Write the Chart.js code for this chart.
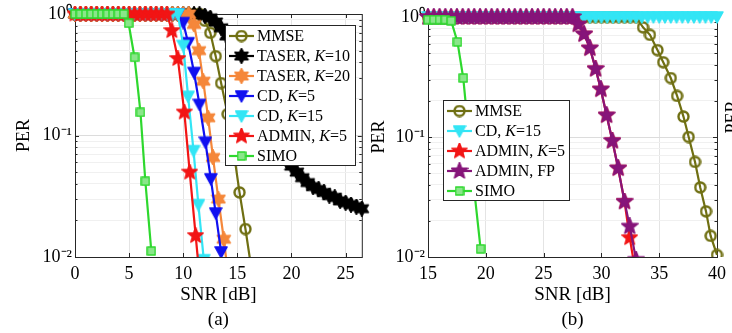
<!DOCTYPE html>
<html>
<head>
<meta charset="utf-8">
<script src="https://cdn.jsdelivr.net/npm/chart.js@4.4.0/dist/chart.umd.min.js"></script>
<style>
  body { margin: 0; background: #fff; width: 732px; height: 333px; overflow: hidden; position: relative; font-family: 'Liberation Serif', 'Times New Roman', serif; }
  canvas.plot { position: absolute; top: 0; }
  .legend { position: absolute; background: #fff; border: 1px solid #262626; font-size: 16px; box-sizing: border-box; padding: 0 4px 0 1px; }
  .legend div { display: flex; align-items: center; height: 20px; white-space: nowrap; }
  .legend canvas { display: block; margin-right: 1px; }
  .cut { position: absolute; left: 712px; top: 107px; width: 40px; height: 20px; line-height: 20px; text-align: center; font-size: 18px; transform: rotate(-90deg); }
</style>
</head>
<body>
<canvas id="chartA" class="plot" width="370" height="333" style="left:0px"></canvas>
<canvas id="chartB" class="plot" width="372" height="333" style="left:360px"></canvas>
<div id="legendA" class="legend" style="left:225px; top:25px; width:131px; height:141px"></div>
<div id="legendB" class="legend" style="left:443px; top:100px; height:101px"></div>
<div class="cut">PER</div>
<script>
// ---- panel (a) data ----
const snrA_MMSE = [0,0.5,1,1.5,2,2.5,3,3.5,4,4.5,5,5.5,6,6.5,7,7.5,8,8.5,9,9.5,10,10.5,11,11.5,12,12.5,13,13.5,14.1,14.65,15.2,15.75,16.3];
const perA_MMSE = [1,1,1,1,1,1,1,1,1,1,1,1,1,1,1,1,1,1,1,1,1,1,1,1,0.88,0.7,0.45,0.27,0.15,0.075,0.034,0.017,0.008];
const snrA_TASER10 = [0,0.5,1,1.5,2,2.5,3,3.5,4,4.5,5,5.5,6,6.5,7,7.5,8,8.5,9,9.5,10,10.5,11,11.5,12,12.5,13,13.5,14,14.5,15,15.5,16,16.5,17,17.5,18,18.5,19,19.5,20,20.5,21,21.5,22,22.5,23,23.5,24,24.5,25,25.5,26,26.5];
const perA_TASER10 = [1,1,1,1,1,1,1,1,1,1,1,1,1,1,1,1,1,1,1,1,1,1,1,1,0.97,0.93,0.86,0.77,0.66,0.55,0.45,0.36,0.29,0.23,0.18,0.14,0.11,0.088,0.073,0.063,0.056,0.05,0.045,0.041,0.038,0.036,0.034,0.032,0.031,0.029,0.028,0.027,0.026,0.025];
const snrA_TASER20 = [0,0.5,1,1.5,2,2.5,3,3.5,4,4.5,5,5.5,6,6.5,7,7.5,8,8.5,9,9.5,10,10.5,11,11.45,11.85,12.3,12.75,13.25,13.75,14.2];
const perA_TASER20 = [1,1,1,1,1,1,1,1,1,1,1,1,1,1,1,1,1,1,1,1,1,1,0.82,0.5,0.28,0.14,0.066,0.03,0.014,0.0065];
const snrA_CD5 = [0,0.5,1,1.5,2,2.5,3,3.5,4,4.5,5,5.5,6,6.5,7,7.5,8,8.5,9,9.5,10,10.45,11,11.5,12.05,12.55,13,13.5];
const perA_CD5 = [1,1,1,1,1,1,1,1,1,1,1,1,1,1,1,1,1,1,1,1,0.85,0.58,0.33,0.18,0.088,0.044,0.023,0.011];
const snrA_CD15 = [0,0.5,1,1.5,2,2.5,3,3.5,4,4.5,5,5.5,6,6.5,7,7.5,8,8.5,9,9.5,10,10.45,10.95,11.4,11.9];
const perA_CD15 = [1,1,1,1,1,1,1,1,1,1,1,1,1,1,1,1,1,1,1,1,0.55,0.21,0.075,0.027,0.0095];
const snrA_ADMIN5 = [0,0.5,1,1.5,2,2.5,3,3.5,4,4.5,5,5.5,6,6.5,7,7.5,8,8.5,8.95,9.5,10.1,10.6,11.15,11.7];
const perA_ADMIN5 = [1,1,1,1,1,1,1,1,1,1,1,1,1,1,1,1,1,1,0.73,0.43,0.156,0.05,0.015,0.0045];
const snrA_SIMO = [0,0.5,1,1.5,2,2.5,3,3.5,4,4.5,4.95,5.5,6.05,6.5,7.05];
const perA_SIMO = [1,1,1,1,1,1,1,1,1,1,0.84,0.44,0.155,0.042,0.0112];

// ---- panel (b) data ----
const snrB_MMSE = [15,15.5,16,16.5,17,17.5,18,18.5,19,19.5,20,20.5,21,21.5,22,22.5,23,23.5,24,24.5,25,25.5,26,26.5,27,27.5,28,28.5,29,29.5,30,30.5,31,31.5,32,32.5,33,33.6,34.2,34.85,35.35,36,36.55,37.1,37.55,38.1,38.55,39.05,39.45,40];
const perB_MMSE = [1,1,1,1,1,1,1,1,1,1,1,1,1,1,1,1,1,1,1,1,1,1,1,1,1,1,1,1,1,1,1,1,1,1,1,1,1,0.82,0.71,0.53,0.42,0.31,0.22,0.148,0.1,0.062,0.038,0.024,0.015,0.0104];
const snrB_CD15 = [15,15.5,16,16.5,17,17.5,18,18.5,19,19.5,20,20.5,21,21.5,22,22.5,23,23.5,24,24.5,25,25.5,26,26.5,27,27.5,28,28.5,29,29.5,30,30.5,31,31.5,32,32.5,33,33.5,34,34.5,35,35.5,36,36.5,37,37.5,38,38.5,39,39.5,40];
const perB_CD15 = [1,1,1,1,1,1,1,1,1,1,1,1,1,1,1,1,1,1,1,1,1,1,1,1,1,1,1,1,1,1,1,1,1,1,1,1,1,1,1,1,1,1,1,1,1,1,1,1,1,1,1];
const snrB_ADMIN = [15,15.5,16,16.5,17,17.5,18,18.5,19,19.5,20,20.5,21,21.5,22,22.5,23,23.5,24,24.5,25,25.5,26,26.5,27,27.5,28,28.5,29,29.5,29.95,30.45,30.95,31.45,32,32.45,33];
const perB_ADMIN5 = [1,1,1,1,1,1,1,1,1,1,1,1,1,1,1,1,1,1,1,1,1,1,1,1,1,1,0.87,0.72,0.55,0.37,0.25,0.152,0.093,0.055,0.029,0.0145,0.007];
const perB_ADMINFP = [1,1,1,1,1,1,1,1,1,1,1,1,1,1,1,1,1,1,1,1,1,1,1,1,1,1,0.87,0.72,0.55,0.37,0.25,0.152,0.093,0.055,0.029,0.018,0.0095];
const snrB_SIMO = [15,15.5,16,16.5,17,17.55,18.05,18.5,19,19.55];
const perB_SIMO = [0.95,0.95,0.95,0.95,0.93,0.62,0.31,0.11,0.036,0.0117];

// ---- axes ----
const xTicksA = [0, 5, 10, 15, 20, 25];
const xTicksB = [15, 20, 25, 30, 35, 40];
const yDecades = [1, 0.1, 0.01];
const yDecadeLabels = ['10\u2070', '10\u207B\u00B9', '10\u207B\u00B2'];
const yMinor = [2, 3, 4, 5, 6, 7, 8, 9];

const FONT = "'Liberation Serif', 'Times New Roman', serif";
const AXIS = '#262626';

// marker images (matlab-like)
function marker(kind, color, size, fill) {
  const c = document.createElement('canvas');
  c.width = c.height = size;
  const g = c.getContext('2d');
  const r = size / 2;
  g.translate(r, r);
  g.fillStyle = fill || color;
  g.strokeStyle = color;
  g.lineWidth = 1.5;
  g.lineJoin = 'round';
  g.beginPath();
  if (kind === 'circle') {
    g.arc(0, 0, r - 1.5, 0, Math.PI * 2);
    g.lineWidth = 2.4;
    g.stroke();
    return c;
  }
  if (kind === 'square') g.rect(-r + 1, -r + 1, size - 2, size - 2);
  if (kind === 'tri') { g.moveTo(-r + 1, -r + 2); g.lineTo(r - 1, -r + 2); g.lineTo(0, r - 1); g.closePath(); }
  if (kind === 'star5' || kind === 'star6') {
    const n = kind === 'star5' ? 5 : 6;
    const inner = kind === 'star5' ? 0.42 : 0.55;
    for (let i = 0; i < 2 * n; i++) {
      const a = -Math.PI / 2 + i * Math.PI / n;
      const rr = (i % 2 ? inner : 1) * (r - 0.5);
      g.lineTo(rr * Math.cos(a), rr * Math.sin(a));
    }
    g.closePath();
  }
  g.fill();
  g.stroke();
  return c;
}

const C = {
  mmse: '#6f6f12', taser10: '#000000', taser20: '#f5873a', cd5: '#1010f0',
  cd15: '#33e5f5', admin5: '#f21515', adminfp: '#86157a', simo: '#2ed82e'
};

function series(label, xs, ys, color, pt, i) {
  return {
    label: label,
    data: xs.map((x, k) => ({ x: x, y: ys[k] })),
    borderColor: color,
    backgroundColor: color,
    borderWidth: 2.2,
    pointStyle: pt,
    pointRadius: 6,
    order: -i,
    clip: { left: false, top: false, right: false, bottom: 0 }
  };
}

const isDecade = v => yDecades.some(d => Math.abs(v / d - 1) < 1e-6);

// box + inward ticks like matlab
const framePlugin = {
  id: 'frame',
  beforeDatasetsDraw(chart) {
    const { ctx, chartArea: a, scales: { x, y } } = chart;
    ctx.save();
    ctx.strokeStyle = AXIS;
    ctx.lineWidth = 1;
    ctx.strokeRect(a.left + 0.5, a.top + 0.5, a.right - a.left, a.bottom - a.top);
    ctx.beginPath();
    x.ticks.forEach(t => {
      const px = Math.round(x.getPixelForValue(t.value)) + 0.5;
      ctx.moveTo(px, a.bottom); ctx.lineTo(px, a.bottom - 4);
      ctx.moveTo(px, a.top); ctx.lineTo(px, a.top + 4);
    });
    y.ticks.forEach(t => {
      const py = Math.round(y.getPixelForValue(t.value)) + 0.5;
      const len = isDecade(t.value) ? 4 : 2.5;
      ctx.moveTo(a.left, py); ctx.lineTo(a.left + len, py);
      ctx.moveTo(a.right, py); ctx.lineTo(a.right - len, py);
    });
    ctx.stroke();
    ctx.restore();
  }
};

function options(xMin, xMax, xTicks, caption, topPad, rightPad, yWidth, titlePad) {
  return {
    responsive: false,
    animation: false,
    layout: { padding: { top: topPad, right: rightPad, left: 0, bottom: 0 } },
    plugins: { legend: { display: false }, tooltip: { enabled: false } },
    scales: {
      x: {
        type: 'linear', min: xMin, max: xMax,
        afterBuildTicks: s => { s.ticks = xTicks.map(v => ({ value: v })); },
        afterFit: s => { s.height = 76; },
        border: { display: false },
        grid: { color: '#e4e4e4', drawTicks: false },
        ticks: { color: '#000', font: { family: FONT, size: 18 }, padding: 6, maxRotation: 0, autoSkip: false },
        title: { display: true, text: ['SNR [dB]', caption], color: '#000', font: { family: FONT, size: 19, lineHeight: '25px' }, padding: { top: 0, bottom: 0 } }
      },
      y: {
        type: 'logarithmic', min: 0.01, max: 1,
        afterBuildTicks: s => {
          const t = [];
          yDecades.forEach(d => {
            t.push({ value: d });
            if (d < 1) yMinor.forEach(m => t.push({ value: d * m }));
          });
          s.ticks = t.sort((p, q) => p.value - q.value);
        },
        afterFit: s => { s.width = yWidth; },
        border: { display: false },
        grid: {
          drawTicks: false,
          color: c => (c.tick && isDecade(c.tick.value)) ? '#dcdcdc' : '#f0f0f0'
        },
        ticks: {
          color: '#000', font: { family: FONT, size: 18 }, padding: 3, autoSkip: false,
          callback: v => {
            const k = yDecades.findIndex(d => Math.abs(v / d - 1) < 1e-6);
            return k >= 0 ? yDecadeLabels[k] : '';
          }
        },
        title: { display: true, text: 'PER', color: '#000', font: { family: FONT, size: 18 }, padding: { top: titlePad, bottom: 0 } }
      }
    }
  };
}

const chartA = new Chart(document.getElementById('chartA'), {
  type: 'line',
  data: {
    datasets: [
      series('MMSE', snrA_MMSE, perA_MMSE, C.mmse, marker('circle', C.mmse, 13), 0),
      series('TASER, K=10', snrA_TASER10, perA_TASER10, C.taser10, marker('star6', C.taser10, 16), 1),
      series('TASER, K=20', snrA_TASER20, perA_TASER20, C.taser20, marker('star6', C.taser20, 16), 2),
      series('CD, K=5', snrA_CD5, perA_CD5, C.cd5, marker('tri', C.cd5, 14), 3),
      series('CD, K=15', snrA_CD15, perA_CD15, C.cd15, marker('tri', C.cd15, 14), 4),
      series('ADMIN, K=5', snrA_ADMIN5, perA_ADMIN5, C.admin5, marker('star5', C.admin5, 17), 5),
      series('SIMO', snrA_SIMO, perA_SIMO, C.simo, marker('square', C.simo, 10, '#8ae68a'), 6)
    ]
  },
  options: options(0, 26.5, xTicksA, '(a)', 14, 4, 75, 13),
  plugins: [framePlugin]
});

const chartB = new Chart(document.getElementById('chartB'), {
  type: 'line',
  data: {
    datasets: [
      series('MMSE', snrB_MMSE, perB_MMSE, C.mmse, marker('circle', C.mmse, 13), 0),
      series('CD, K=15', snrB_CD15, perB_CD15, C.cd15, marker('tri', C.cd15, 14), 1),
      series('ADMIN, K=5', snrB_ADMIN, perB_ADMIN5, C.admin5, marker('star5', C.admin5, 17), 2),
      series('ADMIN, FP', snrB_ADMIN, perB_ADMINFP, C.adminfp, marker('star5', C.adminfp, 18), 3),
      series('SIMO', snrB_SIMO, perB_SIMO, C.simo, marker('square', C.simo, 10, '#8ae68a'), 4)
    ]
  },
  options: options(15, 40, xTicksB, '(b)', 17, 14, 68, 8),
  plugins: [framePlugin]
});

// html legend built from the chart datasets
function buildLegend(chart, el) {
  chart.data.datasets.forEach(ds => {
    const row = document.createElement('div');
    const c = document.createElement('canvas');
    c.width = 29; c.height = 20;
    const g = c.getContext('2d');
    g.strokeStyle = ds.borderColor;
    g.lineWidth = ds.borderWidth;
    g.beginPath(); g.moveTo(2, 10); g.lineTo(27, 10); g.stroke();
    const img = ds.pointStyle;
    g.drawImage(img, 14.5 - img.width / 2, 10 - img.height / 2);
    const span = document.createElement('span');
    span.innerHTML = ds.label.replace('K=', '<i>K</i>=');
    row.appendChild(c);
    row.appendChild(span);
    el.appendChild(row);
  });
}
buildLegend(chartA, document.getElementById('legendA'));
buildLegend(chartB, document.getElementById('legendB'));
</script>
</body>
</html>
